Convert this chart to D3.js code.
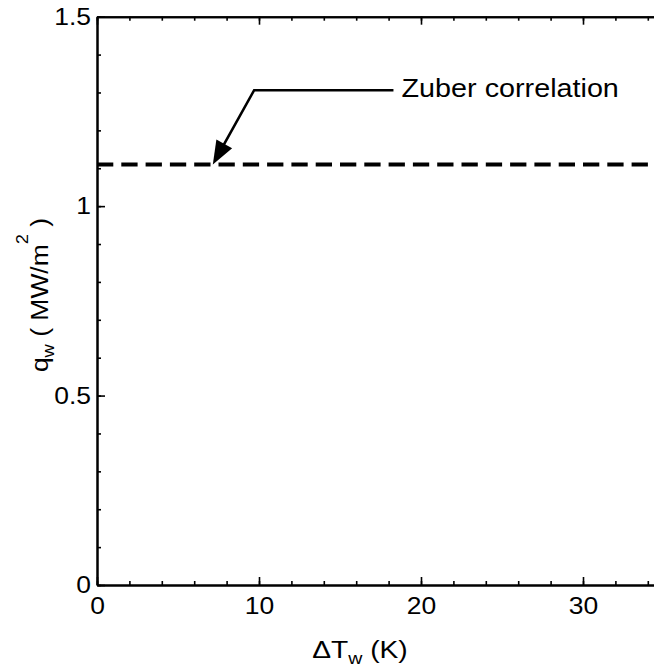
<!DOCTYPE html>
<html>
<head>
<meta charset="utf-8">
<script src="https://cdn.jsdelivr.net/npm/d3@7"></script>
<style>
  html, body { margin: 0; padding: 0; background: #fff; }
  svg { display: block; }
  text { font-family: "Liberation Sans", Arial, sans-serif; fill: #000; }
</style>
</head>
<body>
<div id="chart"></div>
<script>
// ---- data ----
const xDomain = [0, 35];
const yDomain = [0, 1.5];
const xMajorTicks = [0, 10, 20, 30];
const xMinorTicks = [0, 2, 4, 6, 8, 10, 12, 14, 16, 18, 20, 22, 24, 26, 28, 30, 32, 34];
const yMajorTicks = [0, 0.5, 1, 1.5];
const yMinorTicks = [0, 0.1, 0.2, 0.3, 0.4, 0.5, 0.6, 0.7, 0.8, 0.9, 1.0, 1.1, 1.2, 1.3, 1.4, 1.5];
const xTickLabels = ["0", "10", "20", "30"];
const yTickLabels = ["0", "0.5", "1", "1.5"];
const zuberX = [0, 35];
const zuberQ = [1.11, 1.11];
const annotationText = "Zuber correlation";
const arrowX = [18.3, 9.7, 7.15];   // text end -> elbow -> tip
const arrowY = [1.306, 1.306, 1.11];
const annotationPos = [18.8, 1.287];

// ---- layout ----
const W = 654, H = 669;
const mLeft = 97, mTop = 16.7, plotRight = 664, mBottom = 585;
const stretch = 1.08;

const svg = d3.select("#chart").append("svg").attr("width", W).attr("height", H);

const x = d3.scaleLinear().domain(xDomain).range([mLeft, plotRight]);
const y = d3.scaleLinear().domain(yDomain).range([mBottom, mTop]);

function styleAxis(g) {
  g.select(".domain").attr("stroke", "#000").attr("stroke-width", 2);
  g.selectAll(".tick line").attr("stroke", "#000").attr("stroke-width", 1.6);
  g.selectAll("text").attr("font-size", 24.5).attr("fill", "#000")
    .attr("font-family", '"Liberation Sans", Arial, sans-serif');
}

// minor ticks
svg.append("g").attr("transform", `translate(0,${mBottom})`)
  .call(d3.axisBottom(x).tickValues(xMinorTicks).tickSizeInner(-4).tickSizeOuter(0).tickFormat(""))
  .call(styleAxis);
svg.append("g").attr("transform", `translate(0,${mTop})`)
  .call(d3.axisTop(x).tickValues(xMinorTicks).tickSizeInner(-4).tickSizeOuter(0).tickFormat(""))
  .call(styleAxis);
svg.append("g").attr("transform", `translate(${mLeft},0)`)
  .call(d3.axisLeft(y).tickValues(yMinorTicks).tickSizeInner(-4).tickSizeOuter(0).tickFormat(""))
  .call(styleAxis);
svg.append("g").attr("transform", `translate(${plotRight},0)`)
  .call(d3.axisRight(y).tickValues(yMinorTicks).tickSizeInner(-4).tickSizeOuter(0).tickFormat(""))
  .call(styleAxis);

// major ticks with labels
const xAxisG = svg.append("g").attr("transform", `translate(0,${mBottom})`)
  .call(d3.axisBottom(x).tickValues(xMajorTicks).tickSizeInner(-8).tickSizeOuter(0).tickPadding(12)
    .tickFormat((d, i) => xTickLabels[i]))
  .call(styleAxis);
xAxisG.selectAll("text").attr("transform", `scale(${stretch},1)`);

svg.append("g").attr("transform", `translate(0,${mTop})`)
  .call(d3.axisTop(x).tickValues(xMajorTicks).tickSizeInner(-8).tickSizeOuter(0).tickFormat(""))
  .call(styleAxis);

const yAxisG = svg.append("g").attr("transform", `translate(${mLeft},0)`)
  .call(d3.axisLeft(y).tickValues(yMajorTicks).tickSizeInner(-8).tickSizeOuter(0).tickPadding(6)
    .tickFormat((d, i) => yTickLabels[i]))
  .call(styleAxis);
yAxisG.selectAll("text").attr("transform", `scale(${stretch},1)`).attr("x", -6 / stretch);

svg.append("g").attr("transform", `translate(${plotRight},0)`)
  .call(d3.axisRight(y).tickValues(yMajorTicks).tickSizeInner(-8).tickSizeOuter(0).tickFormat(""))
  .call(styleAxis);

// Zuber dashed line
const line = d3.line().x(d => x(d[0])).y(d => y(d[1]));
svg.append("path")
  .datum(zuberX.map((v, i) => [v, zuberQ[i]]))
  .attr("d", line)
  .attr("fill", "none").attr("stroke", "#000").attr("stroke-width", 4)
  .attr("stroke-dasharray", "16.3,8");

// annotation arrow
const arrowPts = arrowX.map((v, i) => [x(v), y(arrowY[i])]);
const tip = arrowPts[2], elbow = arrowPts[1];
const dx = tip[0] - elbow[0], dy = tip[1] - elbow[1];
const len = Math.hypot(dx, dy);
const ux = dx / len, uy = dy / len;
const headLen = 23.5, headHalf = 9;
const base = [tip[0] - ux * headLen, tip[1] - uy * headLen];
svg.append("path")
  .attr("d", d3.line()([arrowPts[0], arrowPts[1], [base[0] + ux * 2, base[1] + uy * 2]]))
  .attr("fill", "none").attr("stroke", "#000").attr("stroke-width", 2.6);
svg.append("path")
  .attr("d", d3.line()([tip, [base[0] - uy * headHalf, base[1] + ux * headHalf], [base[0] + uy * headHalf, base[1] - ux * headHalf]]) + "Z")
  .attr("fill", "#000");

svg.append("text")
  .attr("transform", `translate(${x(annotationPos[0])},${y(annotationPos[1])}) scale(1.15,1)`)
  .attr("font-size", 25)
  .text(annotationText);

// x-axis title: ΔT_w (K)
const xt = svg.append("text")
  .attr("transform", `translate(360,658) scale(1.15,1)`)
  .attr("text-anchor", "middle")
  .attr("font-size", 24.5);
xt.append("tspan").text("ΔT");
xt.append("tspan").attr("font-size", 17).attr("dy", 6).text("w");
xt.append("tspan").attr("dy", -6).text(" (K)");

// y-axis title: q_w ( MW/m^2 )
const yt = svg.append("text")
  .attr("transform", `translate(48,295) rotate(-90) scale(${stretch},1)`)
  .attr("text-anchor", "middle")
  .attr("font-size", 24.5);
yt.append("tspan").text("q");
yt.append("tspan").attr("font-size", 17).attr("dy", 6).text("w");
yt.append("tspan").attr("dy", -6).text(" ( MW/m");
yt.append("tspan").attr("font-size", 17).attr("dy", -20).text("2");
yt.append("tspan").attr("dy", 20).text(" )");
</script>
</body>
</html>
